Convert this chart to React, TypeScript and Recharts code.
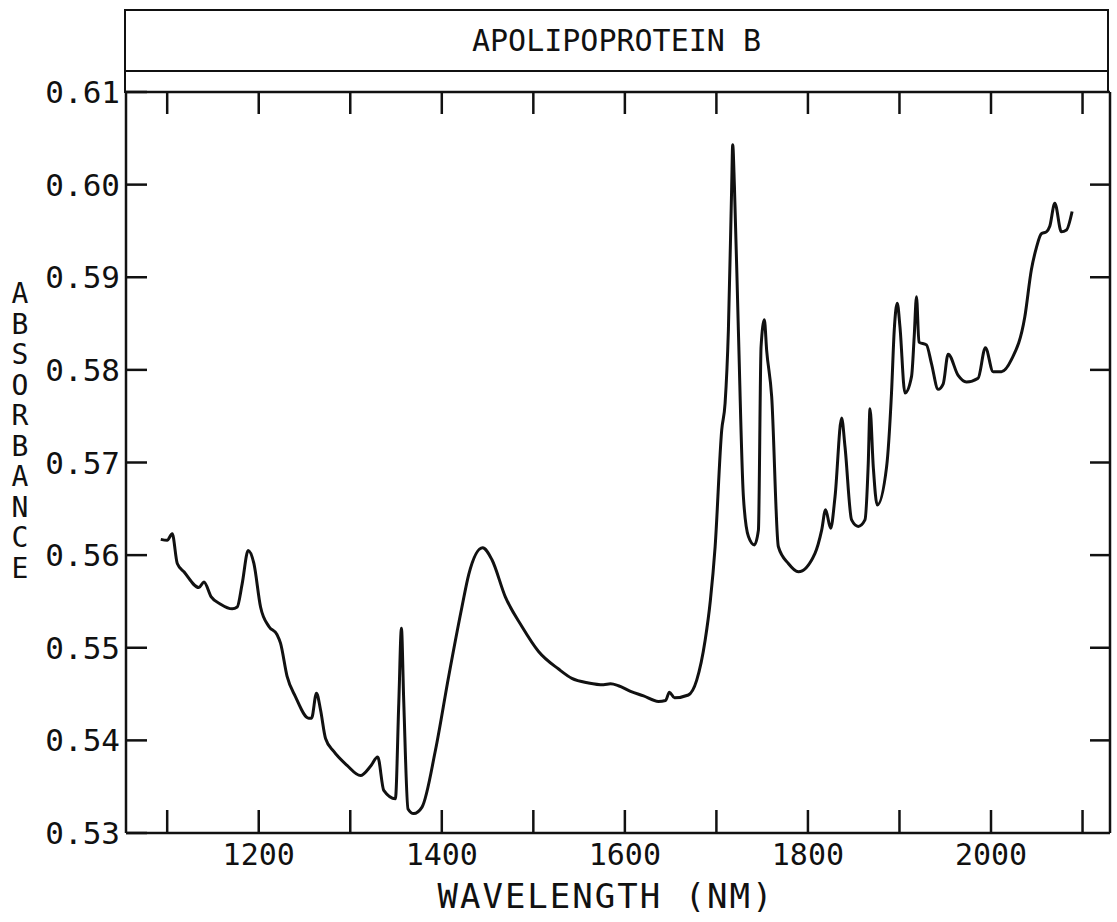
import { Line, LineChart, XAxis, YAxis } from "recharts"

const wavelengths = [
  1093, 1100, 1105.5, 1111, 1118.3, 1134.7, 1140.1, 1148.1, 1158.4, 1171, 1176.5, 1181.9, 1188.5, 1194.7,
  1202, 1211.1, 1220.1, 1223.8, 1231, 1240.2, 1254.7, 1257.7, 1263.1, 1267.5, 1273, 1282, 1296.5, 1311.2,
  1322.1, 1330, 1336.6, 1349.3, 1353, 1355.9, 1358.4, 1363.1, 1369.3, 1378.4, 1393, 1407.5, 1422, 1429.4,
  1444.6, 1454.8, 1469.4, 1487.5, 1505.7, 1527.6, 1542.1, 1560.3, 1576.7, 1584.3, 1593, 1606.2, 1620.4,
  1636.7, 1644.4, 1648.7, 1654.2, 1669.4, 1678.5, 1687.7, 1693.4, 1698.6, 1705.8, 1709.5, 1713.1, 1716.7,
  1717.8, 1719.7, 1724, 1729.5, 1735, 1741.5, 1745.9, 1748.8, 1752.4, 1754.9, 1760.4, 1767.7, 1778.6,
  1789.5, 1807.7, 1815, 1819.3, 1824.8, 1829.6, 1836.8, 1840.5, 1847.7, 1855, 1862.3, 1865.9, 1867.8,
  1871.4, 1875.7, 1885.9, 1891.3, 1894.3, 1897.6, 1900.5, 1906, 1913.2, 1916.1, 1918.6, 1921.3, 1929.5,
  1934.9, 1942.3, 1947.8, 1953.2, 1964.1, 1973.2, 1985.9, 1993.9, 2002.3, 2011.4, 2022.3, 2036.9, 2044.1,
  2049.6, 2055, 2060.5, 2064.2, 2069.7, 2076.9, 2082.4, 2088.6,
]

const absorbance = [
  0.5617, 0.5616, 0.5623, 0.5591, 0.5582, 0.5565, 0.5571, 0.5555, 0.5547, 0.5542, 0.5544, 0.5569, 0.5605, 0.5591,
  0.5544, 0.5523, 0.5514, 0.5505, 0.5469, 0.5447, 0.5424, 0.5424, 0.5451, 0.5433, 0.5402, 0.5388, 0.5373, 0.5362,
  0.5372, 0.5382, 0.5346, 0.5337, 0.544, 0.5521, 0.5443, 0.5326, 0.5321, 0.5328, 0.5389, 0.5469, 0.5544, 0.5579,
  0.5608, 0.5595, 0.5555, 0.5523, 0.5496, 0.5477, 0.5467, 0.5462, 0.546, 0.5461, 0.5459, 0.5453, 0.5448,
  0.5442, 0.5443, 0.5452, 0.5446, 0.5449, 0.5465, 0.5508, 0.5551, 0.5609, 0.5735, 0.5764, 0.5843, 0.5998,
  0.6043, 0.5998, 0.5843, 0.5663, 0.562, 0.5611, 0.5627, 0.5825, 0.5854, 0.5821, 0.5771, 0.5609, 0.5591,
  0.5582, 0.5602, 0.5627, 0.5649, 0.5629, 0.5663, 0.5748, 0.5717, 0.5638, 0.5631, 0.5638, 0.5699, 0.5758,
  0.5695, 0.5654, 0.5695, 0.5775, 0.5843, 0.5872, 0.5847, 0.5775, 0.5793, 0.5836, 0.5879, 0.583, 0.5827,
  0.5807, 0.5779, 0.5785, 0.5817, 0.5794, 0.5787, 0.5791, 0.5824, 0.5798, 0.5798, 0.5811, 0.5857, 0.5908,
  0.5932, 0.5947, 0.5949, 0.5955, 0.598, 0.5949, 0.5951, 0.5971,
]

const xTicks = [1100, 1200, 1300, 1400, 1500, 1600, 1700, 1800, 1900, 2000, 2100]
const xLabels = [1200, 1400, 1600, 1800, 2000]
const yTicks = [0.53, 0.54, 0.55, 0.56, 0.57, 0.58, 0.59, 0.6, 0.61]
const yLetters = ["A", "B", "S", "O", "R", "B", "A", "N", "C", "E"]

const spectrum = wavelengths.map((w, i) => ({ w, a: absorbance[i] }))

const FONT = "'DejaVu Sans Mono', monospace"
const INK = "#111"

const BottomTick = ({ x, y, payload }: any) => (
  <g>
    <line x1={x} y1={y} x2={x} y2={y - 23} stroke={INK} strokeWidth={2.5} />
    {xLabels.includes(payload.value) && (
      <text x={x} y={y + 32} textAnchor="middle" fontFamily={FONT} fontSize={30} fill={INK}>
        {payload.value}
      </text>
    )}
  </g>
)

const TopTick = ({ x, y }: any) => (
  <line x1={x} y1={y} x2={x} y2={y + 22} stroke={INK} strokeWidth={2.5} />
)

const LeftTick = ({ x, y, payload }: any) => (
  <g>
    <line x1={x} y1={y} x2={x + 21} y2={y} stroke={INK} strokeWidth={2.5} />
    <text x={x - 6} y={y + 11} textAnchor="end" fontFamily={FONT} fontSize={31} fill={INK}>
      {payload.value.toFixed(2)}
    </text>
  </g>
)

const RightTick = ({ x, y, payload }: any) =>
  payload.value > 0.53 && payload.value < 0.61 ? (
    <line x1={x} y1={y} x2={x - 20} y2={y} stroke={INK} strokeWidth={2.5} />
  ) : (
    <g />
  )

const YTitle = () => (
  <text x={20} y={303} textAnchor="middle" fontFamily={FONT} fontSize={28} fill={INK}>
    {yLetters.map((c, i) => (
      <tspan key={i} x={20} dy={i === 0 ? 0 : 30.5}>
        {c}
      </tspan>
    ))}
  </text>
)

const XTitle = () => (
  <text x={606} y={908} textAnchor="middle" fontFamily={FONT} fontSize={34} letterSpacing={2} fill={INK}>
    WAVELENGTH (NM)
  </text>
)

export default function App() {
  return (
    <div style={{ position: "absolute", left: 0, top: 0, width: 1117, height: 922, background: "#fff" }}>
      <div
        style={{
          position: "absolute",
          left: 124,
          top: 9,
          width: 985,
          height: 63,
          border: `2.5px solid ${INK}`,
          boxSizing: "border-box",
          display: "flex",
          alignItems: "center",
          justifyContent: "center",
          fontFamily: FONT,
          fontSize: 30,
          color: INK,
        }}
      >
        APOLIPOPROTEIN B
      </div>
      <div
        style={{
          position: "absolute",
          left: 124,
          top: 70,
          width: 985,
          height: 23,
          borderLeft: `2.5px solid ${INK}`,
          borderRight: `2.5px solid ${INK}`,
          boxSizing: "border-box",
        }}
      />
      <LineChart
        width={1117}
        height={922}
        data={spectrum}
        margin={{ top: 52, right: 0, bottom: 29, left: 26 }}
      >
        <XAxis
          dataKey="w"
          type="number"
          domain={[1055, 2130]}
          ticks={xTicks}
          allowDataOverflow
          height={60}
          tickSize={0}
          tickMargin={0}
          tickLine={false}
          axisLine={{ stroke: INK, strokeWidth: 2.5 }}
          tick={<BottomTick />}
          interval={0}
          label={<XTitle />}
        />
        <XAxis
          xAxisId="top"
          orientation="top"
          dataKey="w"
          type="number"
          domain={[1055, 2130]}
          ticks={xTicks}
          allowDataOverflow
          height={40}
          tickSize={0}
          tickMargin={0}
          tickLine={false}
          axisLine={{ stroke: INK, strokeWidth: 2.5 }}
          tick={<TopTick />}
          interval={0}
        />
        <YAxis
          type="number"
          domain={[0.53, 0.61]}
          ticks={yTicks}
          allowDataOverflow
          width={100}
          tickSize={0}
          tickMargin={0}
          tickLine={false}
          axisLine={{ stroke: INK, strokeWidth: 2.5 }}
          tick={<LeftTick />}
          interval={0}
          label={<YTitle />}
        />
        <YAxis
          yAxisId="right"
          orientation="right"
          type="number"
          domain={[0.53, 0.61]}
          ticks={yTicks}
          allowDataOverflow
          width={7}
          tickSize={0}
          tickMargin={0}
          tickLine={false}
          axisLine={{ stroke: INK, strokeWidth: 2.5 }}
          tick={<RightTick />}
          interval={0}
        />
        <Line
          type="monotone"
          dataKey="a"
          stroke={INK}
          strokeWidth={3}
          strokeLinejoin="round"
          dot={false}
          isAnimationActive={false}
        />
      </LineChart>
    </div>
  )
}
